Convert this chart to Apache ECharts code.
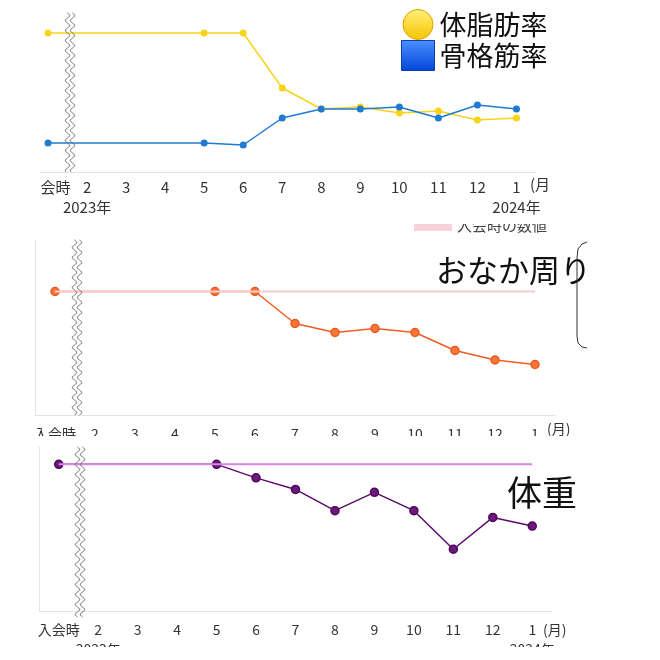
<!DOCTYPE html>
<html>
<head>
<meta charset="utf-8">
<script src="https://cdn.jsdelivr.net/npm/echarts@6/dist/echarts.min.js"></script>
<style>html,body{margin:0;padding:0;background:#fff}#c{width:660px;height:660px}</style>
</head>
<body>
<div id="c"></div>
<script>
// ---- data ----
const categories = ['入会時','2','3','4','5','6','7','8','9','10','11','12','1'];
const yearLabels = ['', '2023年', '', '', '', '', '', '', '', '', '', '', '2024年'];
const monthUnit = '(月)';
const bodyFat = [33.9, null, null, null, 33.9, 33.9, 28.4, 26.3, 26.5, 25.9, 26.1, 25.2, 25.4];
const muscle  = [22.9, null, null, null, 22.9, 22.7, 25.4, 26.3, 26.3, 26.5, 25.4, 26.7, 26.3];
const waist     = [84.7, null, null, null, 84.7, 84.7, 78.3, 76.5, 77.3, 76.5, 72.9, 71.0, 70.1];
const waistBase = [84.7, 84.7, 84.7, 84.7, 84.7, 84.7, 84.7, 84.7, 84.7, 84.7, 84.7, 84.7, 84.7];
const weight     = [70.2, null, null, null, 70.2, 68.8, 67.6, 65.4, 67.3, 65.4, 61.4, 64.7, 63.8];
const weightBase = [70.2, 70.2, 70.2, 70.2, 70.2, 70.2, 70.2, 70.2, 70.2, 70.2, 70.2, 70.2, 70.2];

const FF = '"Noto Sans CJK JP", "Noto Sans", sans-serif';
const chart = echarts.init(document.getElementById('c'), null, {renderer: 'canvas'});

function xAxis(gi, withYears, fontSize, margin) {
  return {
    type: 'category', gridIndex: gi, data: categories, boundaryGap: true,
    axisLine: {lineStyle: {color: '#e4e4e4', width: 1}},
    axisTick: {show: false},
    axisLabel: {
      interval: 0, margin: margin, fontSize: fontSize, color: '#333', fontFamily: FF, lineHeight: 20,
      formatter: (v, i) => withYears && yearLabels[i] ? v + '\n' + yearLabels[i] : v
    }
  };
}
function yAxis(gi, min, max, showLine) {
  return {
    type: 'value', gridIndex: gi, min: min, max: max,
    axisLine: {show: showLine, lineStyle: {color: '#e4e4e4'}},
    axisTick: {show: false}, axisLabel: {show: false}, splitLine: {show: false}
  };
}
function wave(cx, y0, y1) {
  const a = [], b = [];
  for (let y = y0; y <= y1; y += 0.5) {
    const dx = 2.2 * Math.sin((y - y0) / 10 * 2 * Math.PI);
    a.push([cx - 2.5 + dx, y]);
    b.push([cx + 2.5 + dx, y]);
  }
  return [
    {type: 'polyline', z: 50, shape: {points: a, smooth: 0}, style: {stroke: '#6a6a6a', lineWidth: 1, fill: null}},
    {type: 'polyline', z: 50, shape: {points: b, smooth: 0}, style: {stroke: '#6a6a6a', lineWidth: 1, fill: null}}
  ];
}
function mask(x, y, w, h) {
  return {type: 'rect', z: 100, shape: {x: x, y: y, width: w, height: h}, style: {fill: '#fff'}};
}
function unitText(x, y, size) {
  return {type: 'text', z: 60, left: x, top: y, style: {text: monthUnit, font: size + 'px ' + FF, fill: '#333'}};
}

const option = {
  animation: false,
  backgroundColor: '#fff',
  grid: [
    {left: 28.5, right: 124, top: 12, height: 160},
    {left: 35, right: 105, top: 240, height: 175},
    {left: 39, right: 108, top: 447, height: 169}
  ],
  xAxis: [xAxis(0, true, 15, 5), xAxis(1, false, 14, 9), xAxis(2, true, 14, 9)],
  yAxis: [yAxis(0, 20, 36, false), yAxis(1, 60, 95, true), yAxis(2, 55, 72, true)],
  legend: [
    {
      left: 401, top: 9, padding: 0, orient: 'vertical', itemGap: 0, itemWidth: 33, itemHeight: 30,
      textStyle: {fontSize: 27, color: '#111', fontFamily: FF, lineHeight: 29},
      data: [
        {name: '体脂肪率', icon: 'circle', itemStyle: {color: {type: 'linear', x: 0, y: 0, x2: 0, y2: 1, colorStops: [{offset: 0, color: '#fff07a'}, {offset: 1, color: '#f5c400'}]}, borderColor: '#e0a000', borderWidth: 1}},
        {name: '骨格筋率', icon: 'rect', itemStyle: {color: {type: 'linear', x: 0, y: 0, x2: 0, y2: 1, colorStops: [{offset: 0, color: '#4d90ff'}, {offset: 1, color: '#0046d8'}]}, borderColor: '#0a3fa8', borderWidth: 1}}
      ]
    },
    {
      left: 414, top: 218, padding: 0, itemWidth: 38, itemHeight: 11,
      textStyle: {fontSize: 15, color: '#444', fontFamily: FF},
      data: [{name: '入会時の数値', icon: 'rect', itemStyle: {color: '#f6d3d8'}}]
    }
  ],
  series: [
    {name: '体脂肪率', type: 'line', xAxisIndex: 0, yAxisIndex: 0, data: bodyFat, connectNulls: true,
     symbol: 'circle', symbolSize: 7, lineStyle: {color: '#f7d31a', width: 1.5}, itemStyle: {color: '#f8d418'}},
    {name: '骨格筋率', type: 'line', xAxisIndex: 0, yAxisIndex: 0, data: muscle, connectNulls: true,
     symbol: 'circle', symbolSize: 7, lineStyle: {color: '#1f7bd1', width: 1.5}, itemStyle: {color: '#1f7bd1'}},
    {name: 'おなか周り', type: 'line', xAxisIndex: 1, yAxisIndex: 1, data: waist, connectNulls: true,
     symbol: 'circle', symbolSize: 8, lineStyle: {color: '#f25c24', width: 1.5},
     itemStyle: {color: '#f5773a', borderColor: '#f0561a', borderWidth: 1.5}},
    {name: '入会時の数値', type: 'line', xAxisIndex: 1, yAxisIndex: 1, data: waistBase, z: 5,
     showSymbol: false, lineStyle: {color: '#f6cdd3', width: 2}, itemStyle: {color: '#f6cdd3'}},
    {name: '体重', type: 'line', xAxisIndex: 2, yAxisIndex: 2, data: weight, connectNulls: true,
     symbol: 'circle', symbolSize: 8, lineStyle: {color: '#5c0b6b', width: 1.5},
     itemStyle: {color: '#6b1a7c', borderColor: '#4d0659', borderWidth: 1.5}},
    {name: '入会時の数値 ', type: 'line', xAxisIndex: 2, yAxisIndex: 2, data: weightBase, z: 5,
     showSymbol: false, lineStyle: {color: '#da84ea', width: 2}, itemStyle: {color: '#da84ea'}}
  ],
  graphic: {
    elements: [].concat(
      wave(70, 13, 172),
      wave(77, 240, 415),
      wave(80, 447, 617),
      [
        {type: 'text', z: 60, left: 436, top: 255, style: {text: 'おなか周り', font: '31px ' + FF, fill: '#111'}},
        {type: 'text', z: 60, left: 507, top: 475, style: {text: '体重', font: '35px ' + FF, fill: '#111'}},
        {type: 'polyline', z: 60, shape: {points: [[587, 242], [582, 244], [578, 249], [577, 258], [577, 336], [578, 343], [582, 347], [587, 348]]},
         style: {stroke: '#333', lineWidth: 1, fill: null}},
        unitText(530, 177, 15),
        unitText(547, 422, 14),
        unitText(543, 623, 14),
        mask(0, 0, 40, 215),
        mask(548, 170, 112, 45),
        mask(400, 216, 170, 8),
        mask(0, 436, 660, 10),
        mask(0, 647, 660, 13)
      ]
    )
  }
};
chart.setOption(option);
</script>
</body>
</html>
